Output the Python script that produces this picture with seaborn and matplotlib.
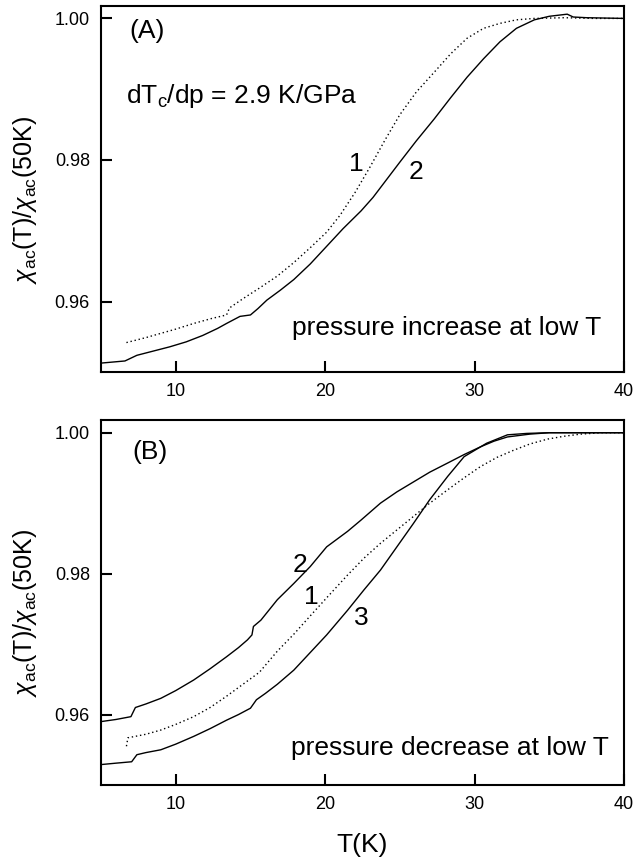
import numpy as np
import pandas as pd
import matplotlib
matplotlib.use('Agg')
import matplotlib.pyplot as plt
import seaborn as sns

# panel A: pressure increase at low T
a1_T = [6.7, 8.0, 9.0, 10.0, 11.2, 12.4, 13.4, 13.6, 14.5, 15.6, 16.8, 17.9, 19.0, 20.1, 21.0, 22.0,
        23.0, 24.0, 25.0, 26.1, 27.3, 28.4, 29.5, 30.6, 31.7, 32.8, 34.0, 36.0, 38.0, 40.0]
a1_y = [0.9542, 0.9549, 0.9555, 0.9561, 0.9569, 0.9576, 0.9581, 0.9591, 0.9604, 0.9619, 0.9636, 0.9655,
        0.9676, 0.9698, 0.9722, 0.9754, 0.9790, 0.9828, 0.9864, 0.9896, 0.9924, 0.9950, 0.9972, 0.9986,
        0.9993, 0.9998, 1.0000, 1.0001, 1.0000, 1.0000]
a2_T = [5.0, 6.6, 7.4, 8.5, 9.6, 10.7, 11.8, 12.8, 13.4, 14.3, 15.0, 15.5, 16.1, 17.0, 17.9, 19.0, 20.1,
        21.2, 22.4, 23.2, 24.1, 25.0, 26.1, 27.3, 28.4, 29.5, 30.6, 31.7, 32.8, 34.0, 35.0, 36.2, 36.6,
        37.5, 40.0]
a2_y = [0.9513, 0.9516, 0.9524, 0.9530, 0.9536, 0.9543, 0.9552, 0.9562, 0.9569, 0.9579, 0.9581, 0.9590,
        0.9602, 0.9616, 0.9631, 0.9653, 0.9678, 0.9703, 0.9728, 0.9747, 0.9772, 0.9797, 0.9827, 0.9858,
        0.9888, 0.9917, 0.9943, 0.9967, 0.9986, 0.9998, 1.0003, 1.0006, 1.0002, 1.0001, 1.0000]

# panel B: pressure decrease at low T
b1_T = [6.7, 6.8, 8.0, 9.0, 10.0, 11.2, 12.3, 13.4, 14.5, 15.6, 16.8, 17.9, 19.0, 20.2, 21.5, 22.6,
        23.7, 24.8, 25.9, 27.0, 28.2, 29.3, 30.4, 31.5, 32.6, 33.7, 34.9, 36.0, 37.1, 38.5, 40.0]
b1_y = [0.9555, 0.9567, 0.9572, 0.9578, 0.9586, 0.9597, 0.9610, 0.9626, 0.9643, 0.9660, 0.9690, 0.9714,
        0.9740, 0.9768, 0.9798, 0.9822, 0.9843, 0.9862, 0.9881, 0.9900, 0.9919, 0.9936, 0.9952, 0.9965,
        0.9975, 0.9984, 0.9991, 0.9995, 0.9998, 1.0000, 1.0000]
b2_T = [5.0, 6.0, 7.0, 7.3, 8.0, 9.0, 10.0, 11.2, 12.3, 13.4, 14.2, 14.8, 15.1, 15.2, 15.7, 16.8, 17.9,
        19.0, 20.1, 21.5, 22.4, 23.7, 24.8, 25.9, 27.0, 28.2, 29.3, 30.4, 31.3, 32.2, 33.7, 35.0, 40.0]
b2_y = [0.9590, 0.9593, 0.9597, 0.9610, 0.9615, 0.9623, 0.9634, 0.9649, 0.9665, 0.9682, 0.9695, 0.9706,
        0.9713, 0.9725, 0.9734, 0.9763, 0.9786, 0.9810, 0.9838, 0.9860, 0.9876, 0.9900, 0.9916, 0.9930,
        0.9944, 0.9957, 0.9969, 0.9980, 0.9988, 0.9994, 0.9998, 1.0000, 1.0000]
b3_T = [5.0, 6.0, 7.05, 7.4, 8.0, 9.0, 10.0, 11.2, 12.3, 13.4, 14.2, 15.0, 15.4, 16.0, 16.8, 17.9, 19.0,
        20.1, 21.5, 22.6, 23.7, 24.8, 25.9, 27.0, 28.2, 29.3, 30.8, 31.5, 32.2, 33.5, 35.0, 40.0]
b3_y = [0.9529, 0.9531, 0.9533, 0.9543, 0.9546, 0.9550, 0.9558, 0.9569, 0.9580, 0.9592, 0.9600, 0.9609,
        0.9621, 0.9630, 0.9643, 0.9663, 0.9688, 0.9713, 0.9748, 0.9777, 0.9805, 0.9838, 0.9871, 0.9905,
        0.9938, 0.9966, 0.9985, 0.9991, 0.9997, 0.9999, 1.0000, 1.0000]

sns.set_theme(style='ticks')
plt.rcParams['font.family'] = ['Liberation Sans', 'DejaVu Sans']
plt.rcParams['mathtext.fontset'] = 'custom'
plt.rcParams['mathtext.rm'] = 'Liberation Sans'
plt.rcParams['mathtext.it'] = 'Liberation Sans:italic'
plt.rcParams['text.color'] = 'black'
plt.rcParams['axes.labelcolor'] = 'black'

fig = plt.figure(figsize=(6.37, 8.6), dpi=100)
axA = fig.add_axes([0.1586, 0.5671, 0.821, 0.4263])
axB = fig.add_axes([0.1586, 0.0872, 0.821, 0.4244])

solid = dict(color='black', lw=1.0, sort=False, estimator=None)
dotted = dict(color='black', lw=1.0, sort=False, estimator=None, linestyle=(0, (1, 2)))

sns.lineplot(x=a1_T, y=a1_y, ax=axA, **dotted)
sns.lineplot(x=a2_T, y=a2_y, ax=axA, **solid)
sns.lineplot(x=b1_T, y=b1_y, ax=axB, **dotted)
sns.lineplot(x=b2_T, y=b2_y, ax=axB, **solid)
sns.lineplot(x=b3_T, y=b3_y, ax=axB, **solid)

ylab = r'$\chi_{\rm ac}$(T)/$\chi_{\rm ac}$(50K)'
for ax in (axA, axB):
    ax.set_xlim(5, 40)
    ax.set_ylim(0.950, 1.0018)
    ax.set_xticks([10, 20, 30, 40])
    ax.set_yticks([0.96, 0.98, 1.00])
    ax.set_yticklabels(['0.96', '0.98', '1.00'])
    ax.tick_params(direction='in', length=8, width=1.5, labelsize=13, pad=8,
                   top=False, right=False, colors='black')
    for s in ax.spines.values():
        s.set_linewidth(1.5)
        s.set_color('black')
    ax.set_ylabel(ylab, fontsize=18)
    ax.yaxis.set_label_coords(-0.118, 0.47)

axA.set_xlabel('')
axB.set_xlabel('T(K)', fontsize=19, labelpad=14)

txt = dict(fontsize=19, va='center', ha='left')
axA.text(6.9, 0.9982, '(A)', **txt)
axA.text(6.7, 0.9891, r'dT$_{\rm c}$/dp = 2.9 K/GPa', **txt)
axA.text(21.6, 0.9794, '1', **txt)
axA.text(25.6, 0.9783, '2', **txt)
axA.text(17.8, 0.9563, 'pressure increase at low T', **txt)

axB.text(7.1, 0.9973, '(B)', **txt)
axB.text(17.8, 0.9812, '2', **txt)
axB.text(18.6, 0.9767, '1', **txt)
axB.text(21.9, 0.9737, '3', **txt)
axB.text(17.7, 0.9552, 'pressure decrease at low T', **txt)

fig.savefig('out.png', dpi=100)
